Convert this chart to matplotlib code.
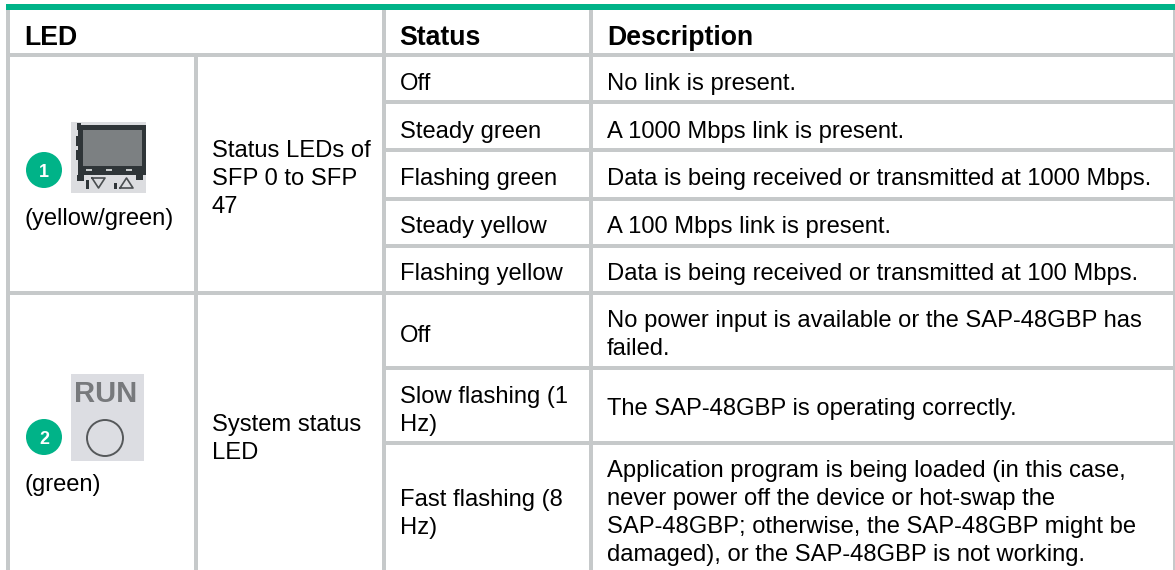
#LED status table drawn as text and lines on one big axes

import matplotlib
matplotlib.use('Agg')
import matplotlib.pyplot as plt
from matplotlib.patches import Rectangle, Circle

plt.rcParams['font.family'] = ['Liberation Sans', 'DejaVu Sans']

header = ['LED', 'Status', 'Description']
status_1 = ['Off', 'Steady green', 'Flashing green', 'Steady yellow', 'Flashing yellow']
desc_1 = ['No link is present.',
          'A 1000 Mbps link is present.',
          'Data is being received or transmitted at 1000 Mbps.',
          'A 100 Mbps link is present.',
          'Data is being received or transmitted at 100 Mbps.']
status_2 = ['Off', 'Slow flashing (1\nHz)', 'Fast flashing (8\nHz)']
desc_2 = ['No power input is available or the SAP-48GBP has\nfailed.',
          'The SAP-48GBP is operating correctly.',
          'Application program is being loaded (in this case,\nnever power off the device or hot-swap the\nSAP-48GBP; otherwise, the SAP-48GBP might be\ndamaged), or the SAP-48GBP is not working.']
led_names = ['(yellow/green)', '(green)']
led_desc = ['Status LEDs of\nSFP 0 to SFP\n47', 'System status\nLED']

GREY = '#c6c9ca'
GREEN = '#00b388'
FS = 17.1
LS = 28

fig = plt.figure(figsize=(11.75, 5.7), dpi=100)
ax = fig.add_axes([0, 0, 1, 1])
ax.set_xlim(0, 1175)
ax.set_ylim(570, 0)
ax.axis('off')

def box(x, y, w, h, c):
    ax.add_patch(Rectangle((x, y), w, h, color=c, lw=0))

def write(x, y, s, fs=FS, **kw):
    # one text per line so each baseline lands where it should
    for i, line in enumerate(s.split('\n')):
        ax.text(x, y + i * LS, line, fontsize=fs, va='baseline', color='black', **kw)

# grid lines
for x in [6, 382, 589]:
    box(x, 10, 4, 560, GREY)
box(1173, 10, 2, 560, GREY)
box(194, 57, 4, 513, GREY)
box(6, 53, 1167, 4, GREY)
box(6, 291, 1167, 4, GREY)
for y in [100, 148, 196.5, 244, 366, 441]:
    box(382, y, 791, 4, GREY)
box(6, 4, 1169, 6, GREEN)

for x, t in zip([24, 399.5, 607], header):
    write(x, 45, t, fs=19.2, fontweight='bold')

for y, s, d in zip([90, 138, 185, 233, 280], status_1, desc_1):
    write(399.5, y, s)
    write(607, y, d)

for y, s in zip([342, 403, 506], status_2):
    write(399.5, y, s)
for y, d in zip([327, 415, 477], desc_2):
    write(607, y, d)

write(212, 157, led_desc[0])
write(212, 431, led_desc[1])
write(24, 225, led_names[0])
write(24, 491, led_names[1])

# numbered badges
for cy, n in [(170, '1'), (437, '2')]:
    ax.add_patch(Circle((44, cy), 18, color=GREEN, lw=0))
    ax.text(44, cy + 0.5, n, color='white', fontsize=13, fontweight='bold', ha='center', va='center_baseline')

# SFP port picture
DARK = '#2f3538'
box(71, 122, 75, 71, '#dcdde0')
box(78, 125, 68, 50, DARK)
box(77, 123, 4, 7, DARK)
box(76, 136, 4, 10, DARK)
box(76, 150, 4, 10, DARK)
box(77, 175, 7, 6, DARK)
box(83, 130, 59, 36, '#7c8082')
for x in [86, 106, 126]:
    box(x, 168.5, 6, 2, '#c9cccd')
ax.plot([92, 105, 98.5, 92], [178, 178, 188, 178], color='#4a4e50', lw=1.2)
ax.plot([120, 133, 126.5, 120], [188, 188, 178, 188], color='#4a4e50', lw=1.2)
box(86, 180, 3, 9, DARK)
box(114, 183, 3, 6, DARK)
box(136, 175, 7, 5, DARK)

# RUN picture
box(71, 374, 73, 87, '#dcdde2')
ax.text(105.5, 394, 'RUN', fontsize=21, fontweight='bold', color='#77797c', ha='center', va='center')
ax.add_patch(Circle((105, 438), 18, fill=False, ec='#55585a', lw=1.4))

fig.savefig('out.png', dpi=100)
